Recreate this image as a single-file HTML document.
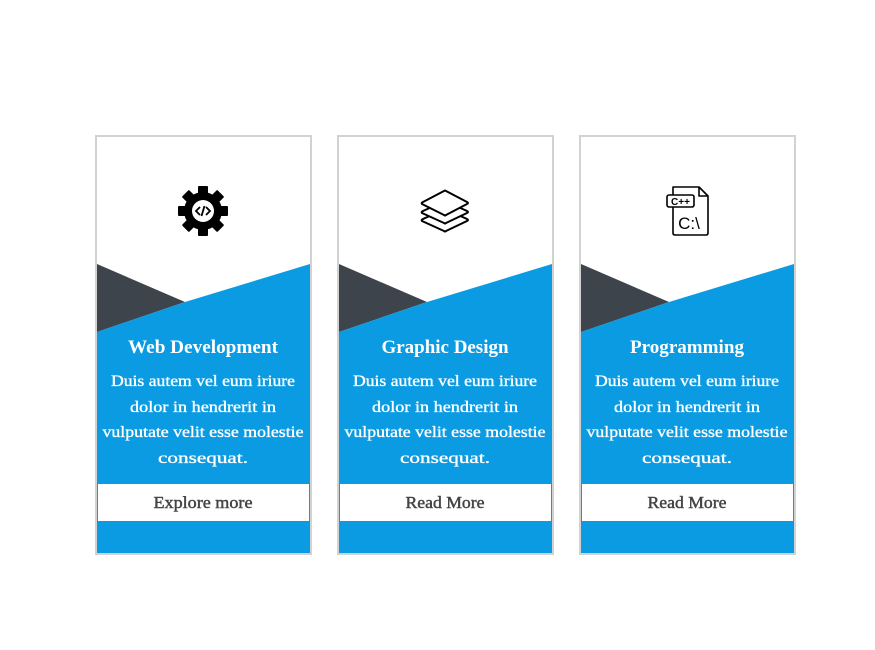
<!DOCTYPE html>
<html><head><meta charset="utf-8"><style>
html,body{margin:0;padding:0;background:#fff;width:875px;height:650px;overflow:hidden}
text{font-family:"Liberation Serif",serif}
.t{fill:#fff;font-weight:bold;font-size:19px}
.b{fill:#fff;font-size:16px;stroke:#fff;stroke-width:0.35}
.btn{fill:#444;font-size:17px;stroke:#444;stroke-width:0.45}
</style></head><body>
<svg width="875" height="650" viewBox="0 0 875 650" xmlns="http://www.w3.org/2000/svg">
<defs>
<g id="card">
<rect x="1" y="1" width="215" height="418" fill="#fff" stroke="#d2d2d2" stroke-width="2"/>
<polygon points="2,129 90,167 2,197" fill="#3d444b"/>
<polygon points="2,197 90,167 215,129 215,418 2,418" fill="#0b9be3"/>
<rect x="3" y="349" width="211" height="37" fill="#fff"/>
</g>
</defs>
<g transform="translate(95,135)"><use href="#card"/></g>
<g transform="translate(337,135)"><use href="#card"/></g>
<g transform="translate(579,135)"><use href="#card"/></g>

<!-- gear -->
<g transform="translate(203,211)">
<g fill="#000">
<circle r="19"/>
<rect x="-5" y="-25" width="10" height="50" rx="1"/>
<rect x="-5" y="-25" width="10" height="50" rx="1" transform="rotate(45)"/>
<rect x="-5" y="-25" width="10" height="50" rx="1" transform="rotate(90)"/>
<rect x="-5" y="-25" width="10" height="50" rx="1" transform="rotate(135)"/>
</g>
<circle r="11" fill="#fff"/>
<path d="M-3,-4 L-7,0 L-3,4 M3,-4 L7,0 L3,4 M1.5,-5 L-1.5,5" stroke="#000" stroke-width="1.8" fill="none"/>
</g>

<!-- layers -->
<g transform="translate(445,211)" fill="#fff" stroke="#000" stroke-width="2" stroke-linejoin="round">
<path d="M-23,10 Q-24,9 -22,8 L0,-2 L22,8 Q24,9 22,10 L1,20 Q0,21 -1,20 Z"/>
<path d="M-23,2 Q-24,1 -22,0 L0,-10 L22,0 Q24,1 22,2 L1,12 Q0,13 -1,12 Z"/>
<path d="M-23,-7 Q-24,-8 -22,-9 L-1,-20 Q0,-21 1,-20 L22,-9 Q24,-8 22,-7 L1,4 Q0,5 -1,4 Z"/>
</g>

<!-- C++ file -->
<g fill="none" stroke="#000" stroke-width="1.6" stroke-linejoin="round">
<path d="M673,187 L699,187 L708,196 L708,233 Q708,235 706,235 L675,235 Q673,235 673,233 Z"/>
<path d="M699,187 L699,196 L708,196"/>
<rect x="667" y="195" width="27" height="12" rx="2" fill="#fff"/>
</g>
<text x="680.5" y="205" text-anchor="middle" style="font-family:'Liberation Sans',sans-serif;font-size:10px;font-weight:bold" fill="#000">C++</text>
<text x="689" y="229" text-anchor="middle" style="font-family:'Liberation Sans',sans-serif;font-size:17px" fill="#000">C:\</text>

<!-- texts -->
<g text-anchor="middle">
<text class="t" x="203" y="353" textLength="150" lengthAdjust="spacingAndGlyphs">Web Development</text>
<text class="t" x="445" y="353" textLength="127" lengthAdjust="spacingAndGlyphs">Graphic Design</text>
<text class="t" x="687" y="353" textLength="114" lengthAdjust="spacingAndGlyphs">Programming</text>

<text class="b" x="203" y="386" textLength="184" lengthAdjust="spacingAndGlyphs">Duis autem vel eum iriure</text>
<text class="b" x="203" y="412" textLength="146" lengthAdjust="spacingAndGlyphs">dolor in hendrerit in</text>
<text class="b" x="203" y="437" textLength="201" lengthAdjust="spacingAndGlyphs">vulputate velit esse molestie</text>
<text class="b" x="203" y="463" textLength="90" lengthAdjust="spacingAndGlyphs">consequat.</text>
<text class="b" x="445" y="386" textLength="184" lengthAdjust="spacingAndGlyphs">Duis autem vel eum iriure</text>
<text class="b" x="445" y="412" textLength="146" lengthAdjust="spacingAndGlyphs">dolor in hendrerit in</text>
<text class="b" x="445" y="437" textLength="201" lengthAdjust="spacingAndGlyphs">vulputate velit esse molestie</text>
<text class="b" x="445" y="463" textLength="90" lengthAdjust="spacingAndGlyphs">consequat.</text>
<text class="b" x="687" y="386" textLength="184" lengthAdjust="spacingAndGlyphs">Duis autem vel eum iriure</text>
<text class="b" x="687" y="412" textLength="146" lengthAdjust="spacingAndGlyphs">dolor in hendrerit in</text>
<text class="b" x="687" y="437" textLength="201" lengthAdjust="spacingAndGlyphs">vulputate velit esse molestie</text>
<text class="b" x="687" y="463" textLength="90" lengthAdjust="spacingAndGlyphs">consequat.</text>

<text class="btn" x="203" y="508" textLength="99" lengthAdjust="spacingAndGlyphs">Explore more</text>
<text class="btn" x="445" y="508" textLength="79" lengthAdjust="spacingAndGlyphs">Read More</text>
<text class="btn" x="687" y="508" textLength="79" lengthAdjust="spacingAndGlyphs">Read More</text>
</g>
</svg>
</body></html>
